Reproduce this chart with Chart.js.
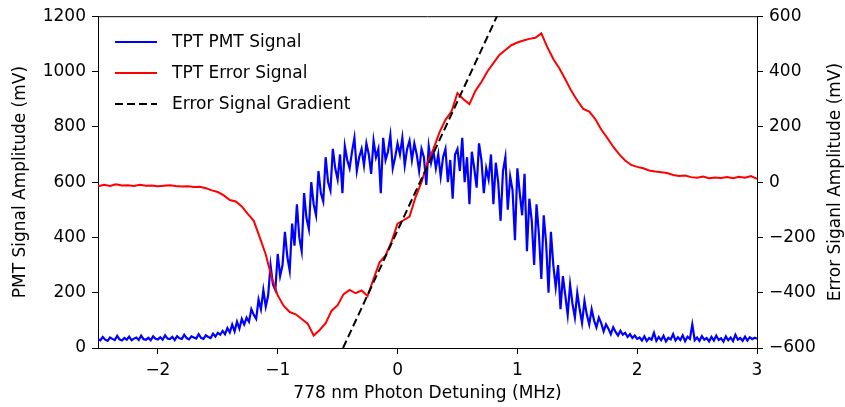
<!DOCTYPE html>
<html>
<head>
<meta charset="utf-8">
<script src="https://cdn.jsdelivr.net/npm/chart.js@4.4.0/dist/chart.umd.min.js"></script>
<style>
html, body { margin: 0; padding: 0; background: #fff; }
canvas { display: block; }
</style>
</head>
<body>
<canvas id="tptChart" width="845" height="407"></canvas>
<script>
// detuning grid (MHz): samples start at -2.5
const detuningStart = -2.5;
const pmtStep = 0.02;
const errStep = 0.05;

// TPT PMT signal, mV (left axis), one value per 0.02 MHz
const pmtSignal = [
  32,28,40,30,26,38,33,29,44,31,27,36,30,41,28,34,38,29,45,32,
  30,37,28,42,33,31,39,30,46,34,32,40,29,43,35,33,48,36,31,42,
  38,34,50,37,33,46,40,36,52,41,55,
  48,62,50,72,56,85,60,95,70,105,
  85,110,95,140,120,105,175,140,210,150,
  190,300,230,210,340,260,300,420,330,280,
  450,370,520,400,350,560,470,430,600,520,
  480,640,560,530,690,600,570,720,650,610,
  700,560,730,680,650,710,760,640,690,720,
  660,740,700,630,750,690,720,560,760,680,
  710,770,650,690,740,700,760,660,720,750,
  680,740,700,640,720,690,590,730,670,710,
  650,700,620,690,720,600,680,540,700,720,
  640,760,600,690,520,710,650,580,740,680,
  560,650,610,700,520,670,600,460,640,690,
  500,620,570,390,650,560,480,630,350,540,
  460,300,520,410,250,480,380,200,420,300,
  220,300,140,260,190,120,230,160,110,200,
  140,90,170,120,85,140,100,75,110,90,
  60,85,70,50,75,58,45,62,48,55,
  40,50,36,45,33,
  38,27,42,25,36,30,55,26,40,28,44,24,37,31,50,27,39,29,46,25,
  41,33,85,28,38,26,43,30,36,24,40,27,45,29,35,23,42,28,38,25,
  48,30,36,26,41,27,39,32,37,34
];

// TPT error signal, mV (right axis), one value per 0.05 MHz
const errorSignal = [
  -15,-10,-14,-8,-12,-11,-14,-10,-13,-12,
  -15,-13,-11,-14,-16,-15,-18,-17,-22,-30,
  -36,-48,-65,-70,-88,-115,-140,-200,-262,-345,
  -410,-448,-470,-478,-495,-512,-555,-535,-510,-465,
  -445,-405,-390,-402,-392,-412,-350,-290,-265,-215,
  -150,-138,-125,-55,0,70,120,180,225,255,
  322,300,282,330,362,400,430,460,478,495,
  505,512,518,522,538,488,445,412,372,330,
  295,265,255,228,190,160,128,100,78,62,
  55,50,42,38,36,33,26,22,24,18,
  16,20,14,17,15,18,14,19,16,22,
  12
];

// fitted error signal gradient (end points)
const gradientDetuning = [-0.455, 0.83];
const gradientError = [-600, 600];

const detuningTicks = [-2, -1, 0, 1, 2, 3];
const pmtTicks = [0, 200, 400, 600, 800, 1000, 1200];
const errorTicks = [-600, -400, -200, 0, 200, 400, 600];

const pmtPoints = pmtSignal.map((v, i) => ({ x: detuningStart + i * pmtStep, y: v }));
const errPoints = errorSignal.map((v, i) => ({ x: detuningStart + i * errStep, y: v }));
const gradPoints = gradientDetuning.map((x, i) => ({ x: x, y: gradientError[i] }));

Chart.defaults.font.family = 'DejaVu Sans';
Chart.defaults.font.size = 17;
Chart.defaults.color = '#000';

const minus = v => String(v).replace('-', '\u2212');

const innerLegend = {
  id: 'innerLegend',
  afterDatasetsDraw(chart) {
    const ctx = chart.ctx;
    const a = chart.chartArea;
    ctx.save();
    // top spine
    ctx.strokeStyle = '#000';
    ctx.lineWidth = 1;
    ctx.beginPath();
    ctx.moveTo(a.left, a.top + 0.5);
    ctx.lineTo(a.right, a.top + 0.5);
    ctx.stroke();
    chart.data.datasets.forEach((ds, i) => {
      const y = 42 + i * 31;
      ctx.strokeStyle = ds.borderColor;
      ctx.lineWidth = 2;
      ctx.setLineDash(ds.borderDash || []);
      ctx.beginPath();
      ctx.moveTo(115, y);
      ctx.lineTo(157, y);
      ctx.stroke();
      ctx.setLineDash([]);
      ctx.fillStyle = '#000';
      ctx.font = '17px "DejaVu Sans"';
      ctx.textBaseline = 'middle';
      ctx.textAlign = 'left';
      ctx.fillText(ds.label, 172, y + 1);
    });
    // right axis title, reading bottom to top
    ctx.translate(836, (a.top + a.bottom) / 2);
    ctx.rotate(-Math.PI / 2);
    ctx.textAlign = 'center';
    ctx.textBaseline = 'middle';
    ctx.fillText('Error Siganl Amplitude (mV)', 0, 0);
    ctx.restore();
  }
};

const axisGrid = { drawOnChartArea: false, drawTicks: true, tickLength: 6, color: '#000', tickWidth: 1 };
const axisBorder = { color: '#000', width: 1 };

new Chart(document.getElementById('tptChart').getContext('2d'), {
  type: 'line',
  data: {
    datasets: [
      {
        label: 'TPT PMT Signal',
        data: pmtPoints,
        yAxisID: 'y',
        borderColor: '#0000ff',
        borderWidth: 2.2,
        pointRadius: 0,
        tension: 0,
        order: 3
      },
      {
        label: 'TPT Error Signal',
        data: errPoints,
        yAxisID: 'y2',
        borderColor: '#ff0000',
        borderWidth: 2,
        pointRadius: 0,
        tension: 0,
        order: 2
      },
      {
        label: 'Error Signal Gradient',
        data: gradPoints,
        yAxisID: 'y2',
        borderColor: '#000000',
        borderWidth: 2,
        borderDash: [8, 4],
        pointRadius: 0,
        tension: 0,
        order: 1
      }
    ]
  },
  options: {
    responsive: false,
    devicePixelRatio: 1,
    animation: false,
    layout: { padding: { top: 15, left: 0, right: 0, bottom: 0 } },
    plugins: { legend: { display: false }, tooltip: { enabled: false } },
    scales: {
      x: {
        type: 'linear',
        min: -2.5,
        max: 3,
        afterBuildTicks: s => { s.ticks = detuningTicks.map(v => ({ value: v })); },
        afterFit: s => { s.height = 59; },
        ticks: { callback: minus, padding: 6, maxRotation: 0 },
        grid: axisGrid,
        border: axisBorder,
        title: { display: true, text: '778 nm Photon Detuning (MHz)', padding: { top: 0, bottom: 3 } }
      },
      y: {
        type: 'linear',
        position: 'left',
        min: 0,
        max: 1200,
        afterBuildTicks: s => { s.ticks = pmtTicks.map(v => ({ value: v })); },
        afterFit: s => { s.width = 98; },
        ticks: { callback: minus, padding: 6 },
        grid: axisGrid,
        border: axisBorder,
        title: { display: true, text: 'PMT Signal Amplitude (mV)', padding: { top: 10, bottom: 0 } }
      },
      y2: {
        type: 'linear',
        position: 'right',
        min: -600,
        max: 600,
        afterBuildTicks: s => { s.ticks = errorTicks.map(v => ({ value: v })); },
        afterFit: s => { s.width = 88; },
        ticks: { callback: minus, padding: 6 },
        grid: axisGrid,
        border: axisBorder
      }
    }
  },
  plugins: [innerLegend]
});
</script>
</body>
</html>
